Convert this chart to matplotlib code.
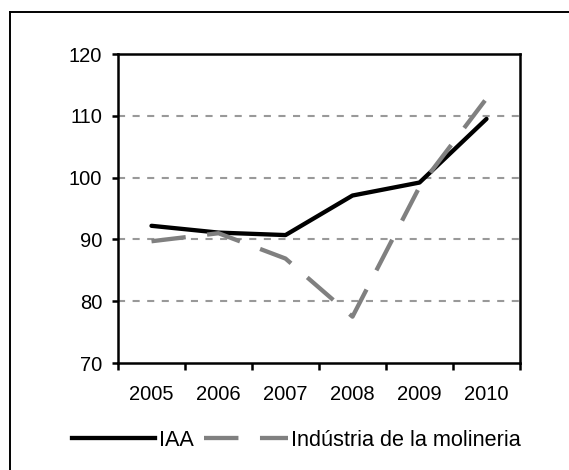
import matplotlib.pyplot as plt
from matplotlib.lines import Line2D

plt.rcParams['font.family'] = ['Liberation Sans', 'DejaVu Sans']

years = ['2005', '2006', '2007', '2008', '2009', '2010']
iaa = [92.2, 91.1, 90.7, 97.1, 99.2, 109.5]
molineria = [89.7, 91.0, 86.9, 77.5, 98.5, 112.8]
yticks = [70, 80, 90, 100, 110, 120]

fig = plt.figure(figsize=(5.69, 4.70), dpi=100)
ax = fig.add_axes([118 / 569, 1 - 363 / 470, 402 / 569, 309 / 470])

x = list(range(len(years)))
ax.plot(x, iaa, color='black', lw=3.1, solid_capstyle='round', label='IAA')
ax.plot(x, molineria, color='#808080', lw=3.1, dashes=(8, 5),
        label='Indústria de la molineria')

ax.set_xlim(-0.5, len(years) - 0.5)
ax.set_ylim(70, 120)
ax.set_yticks(yticks)
ax.set_xticks([i - 0.5 for i in range(len(years) + 1)])
ax.set_xticklabels([])
ax.set_xticks(x, minor=True)
ax.set_xticklabels(years, minor=True)
ax.tick_params(axis='x', which='minor', length=0, pad=16, labelsize=14.5)
ax.tick_params(axis='x', which='major', direction='out', length=5, width=1.8)
ax.tick_params(axis='y', direction='out', length=4.5, width=1.8, labelsize=14.5, pad=7)

for v in yticks[1:-1]:
    ax.axhline(v, color='#999999', lw=1.5, dashes=(3.4, 3.6), zorder=0)

for s in ax.spines.values():
    s.set_linewidth(1.8)

handles = [Line2D([], [], color='black', lw=3.1),
           Line2D([], [], color='#808080', lw=3.1, dashes=(8, 5))]
fig.legend(handles, ['IAA', 'Indústria de la molineria'], loc='center left',
           bbox_to_anchor=(72 / 569, 1 - 440 / 470), ncol=2, frameon=False,
           fontsize=15.6, handlelength=3.85, handletextpad=0.15,
           columnspacing=0.5, borderpad=0, borderaxespad=0)

# outer frame (cropped at right and bottom)
fig.add_artist(Line2D([10 / 569, 10 / 569], [0, 1 - 12 / 470],
                      transform=fig.transFigure, color='black', lw=1.4))
fig.add_artist(Line2D([10 / 569, 1], [1 - 12 / 470, 1 - 12 / 470],
                      transform=fig.transFigure, color='black', lw=1.4))

fig.savefig('out.png', dpi=100)
